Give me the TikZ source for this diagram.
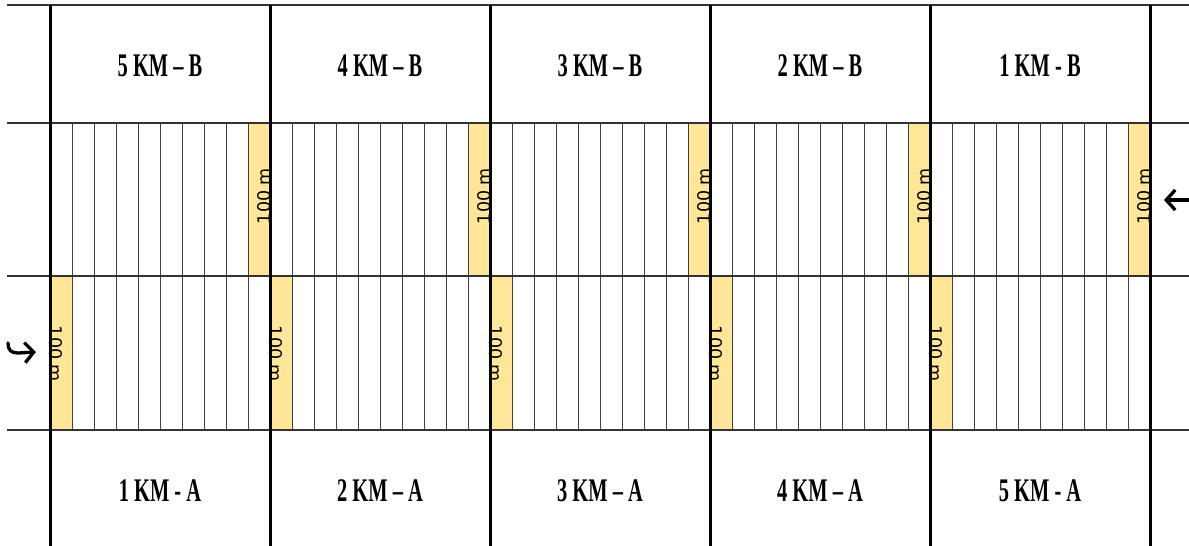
\documentclass[tikz,border=0pt]{standalone}
\usepackage{fontspec}
\usepackage{graphicx}
\usetikzlibrary{arrows.meta}
\newfontfamily\lblfont{Liberation Serif}
\newfontfamily\mfont{DejaVu Sans}
\definecolor{stripyellow}{RGB}{255,230,153}
\begin{document}
\begin{tikzpicture}[x=1pt,y=-1pt,
  lbl/.style={inner sep=0pt,font=\lblfont\bfseries\fontsize{33}{33}\selectfont},
  mlbl/.style={inner sep=0pt,font=\mfont\fontsize{17.5}{17.5}\selectfont},
  thinline/.style={line width=0.9pt,draw=black!75},
  hline/.style={line width=1.9pt,draw=black!80},
  vline/.style={line width=3pt,draw=black},
  arr/.style={line width=3.3pt,line cap=round,-{Straight Barb[length=9pt,width=20pt,line width=3.3pt]}}]
\useasboundingbox (0,0) rectangle (1189,546);
\fill[white] (0,0) rectangle (1189,546);
% yellow columns
\foreach \i in {0,...,4}{
  \fill[stripyellow] ({50+220*\i+198},123) rectangle ({50+220*\i+220},276);
  \fill[stripyellow] ({50+220*\i},276) rectangle ({50+220*\i+22},430);
}
% thin column lines
\foreach \i in {0,...,4}{
  \foreach \k in {1,...,9}{
    \draw[thinline] ({50+220*\i+22*\k},123) -- ({50+220*\i+22*\k},430);
  }
}
% 100 m labels
\foreach \i in {0,...,4}{
  \node[mlbl,rotate=90] (u\i) at ({50+220*(\i+1)-6},196) {100 m};
  \node[mlbl,rotate=-90] (l\i) at ({50+220*\i+6},354) {100 m};
}
% horizontal lines
\foreach \yy in {5,123,276,430}{
  \draw[hline] (7,\yy) -- (1189,\yy);
}
% thick vertical lines
\foreach \i in {0,...,5}{
  \draw[vline] ({50+220*\i},5) -- ({50+220*\i},546);
}
% top labels
\node[lbl] (b5) at (160,66) {\scalebox{0.62}[1]{5 KM – B}};
\node[lbl] (b4) at (380,66) {\scalebox{0.62}[1]{4 KM – B}};
\node[lbl] (b3) at (600,66) {\scalebox{0.62}[1]{3 KM – B}};
\node[lbl] (b2) at (820,66) {\scalebox{0.62}[1]{2 KM – B}};
\node[lbl] (b1) at (1040,66) {\scalebox{0.62}[1]{1 KM - B}};
% bottom labels
\node[lbl] (a1) at (160,491) {\scalebox{0.62}[1]{1 KM - A}};
\node[lbl] (a2) at (380,491) {\scalebox{0.62}[1]{2 KM – A}};
\node[lbl] (a3) at (600,491) {\scalebox{0.62}[1]{3 KM – A}};
\node[lbl] (a4) at (820,491) {\scalebox{0.62}[1]{4 KM – A}};
\node[lbl] (a5) at (1040,491) {\scalebox{0.62}[1]{5 KM - A}};
% arrows
\coordinate (hs) at (8,343);
\coordinate (he) at (36,352);
\draw[arr] (hs) .. controls (8,350) and (11,353) .. (18,353) -- (he);
\coordinate (rs) at (1189,200);
\coordinate (re) at (1164,200);
\draw[arr] (rs) -- (re);
\end{tikzpicture}
\end{document}
